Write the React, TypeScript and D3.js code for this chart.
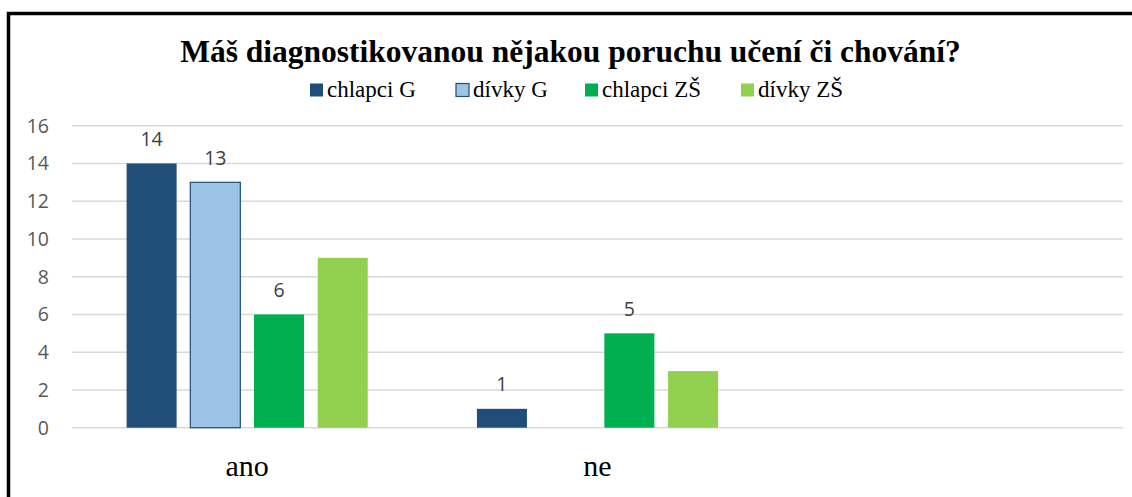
import * as d3 from 'd3';

const categories = ['ano', 'ne', ''];
const seriesNames = ['chlapci G', 'dívky G', 'chlapci ZŠ', 'dívky ZŠ'];
const seriesColors = ['#1F4E79', '#9DC3E6', '#00B050', '#92D050'];
const chlapciG = [14, 1, null];
const divkyG = [13, 0, null];
const chlapciZS = [6, 5, null];
const divkyZS = [9, 3, null];
const labeledSeries = ['chlapci G', 'dívky G', 'chlapci ZŠ'];
const yTicks = [0, 2, 4, 6, 8, 10, 12, 14, 16];

const title = 'Máš diagnostikovanou nějakou poruchu učení či chování?';

const width = 1132;
const height = 497;
const serif = "'Liberation Serif'";
const sans = "'Open Sans'";

export default function App() {
  const x0 = d3.scaleBand().domain(categories.map((c, i) => String(i))).range([72, 1123]);
  const x1 = d3.scaleBand()
    .domain(seriesNames)
    .range([0, x0.bandwidth()])
    .paddingInner(0.215)
    .paddingOuter(0.857);
  const y = d3.scaleLinear().domain([0, 16]).range([427.7, 125.7]);

  const values = [chlapciG, divkyG, chlapciZS, divkyZS];
  const rows = [];
  categories.forEach((c, ci) => {
    seriesNames.forEach((s, si) => {
      const v = values[si][ci];
      if (v == null || v <= 0) return;
      rows.push({ ci, s, si, v });
    });
  });

  // legend entries placed like Excel's horizontal legend
  const legendX = [310, 456, 585, 741];

  return (
    <div style={{ position: 'fixed', left: 0, top: 0 }}>
      <svg width={width} height={height} style={{ display: 'block', background: 'white' }}>
        {/* frame, cropped on right and bottom */}
        <rect x={8.5} y={13.5} width={width + 20} height={height + 20} fill="none" stroke="#000" strokeWidth={3.5} />

        <text x={570.5} y={62} textAnchor="middle" fontWeight="bold" fontSize={31.5} style={{ fontFamily: serif }} fill="#000">
          {title}
        </text>

        {seriesNames.map((s, i) => (
          <g key={s} transform={`translate(${legendX[i]}, 83.5)`}>
            <rect width={13} height={13} fill={seriesColors[i]} stroke={s === 'dívky G' ? '#1F4E79' : 'none'} strokeWidth={1.2} />
            <text x={17} y={13.5} fontSize={23} style={{ fontFamily: serif }} fill="#000">{s}</text>
          </g>
        ))}

        {yTicks.map(t => (
          <line key={'g' + t} x1={72} x2={1123} y1={y(t)} y2={y(t)} stroke="#d9d9d9" strokeWidth={1.5} />
        ))}
        {yTicks.map(t => (
          <text key={'t' + t} x={49} y={y(t)} dy="0.36em" textAnchor="end" fontSize={19.5} style={{ fontFamily: sans }} fill="#595959">
            {t}
          </text>
        ))}

        {rows.map(d => (
          <rect
            key={d.ci + d.s}
            x={x0(String(d.ci)) + x1(d.s)}
            width={x1.bandwidth()}
            y={y(d.v)}
            height={y(0) - y(d.v)}
            fill={seriesColors[d.si]}
            stroke={d.s === 'dívky G' ? '#1F4E79' : 'none'}
            strokeWidth={1.2}
          />
        ))}
        {rows.filter(d => labeledSeries.includes(d.s)).map(d => (
          <text
            key={'l' + d.ci + d.s}
            x={x0(String(d.ci)) + x1(d.s) + x1.bandwidth() / 2}
            y={y(d.v) - 17.5}
            textAnchor="middle"
            fontSize={19.5}
            style={{ fontFamily: sans }}
            fill="#404040"
          >
            {d.v}
          </text>
        ))}

        {categories.map((c, i) => (
          <text key={'c' + i} x={x0(String(i)) + x0.bandwidth() / 2} y={476} textAnchor="middle" fontSize={30} style={{ fontFamily: serif }} fill="#000">
            {c}
          </text>
        ))}
      </svg>
    </div>
  );
}
